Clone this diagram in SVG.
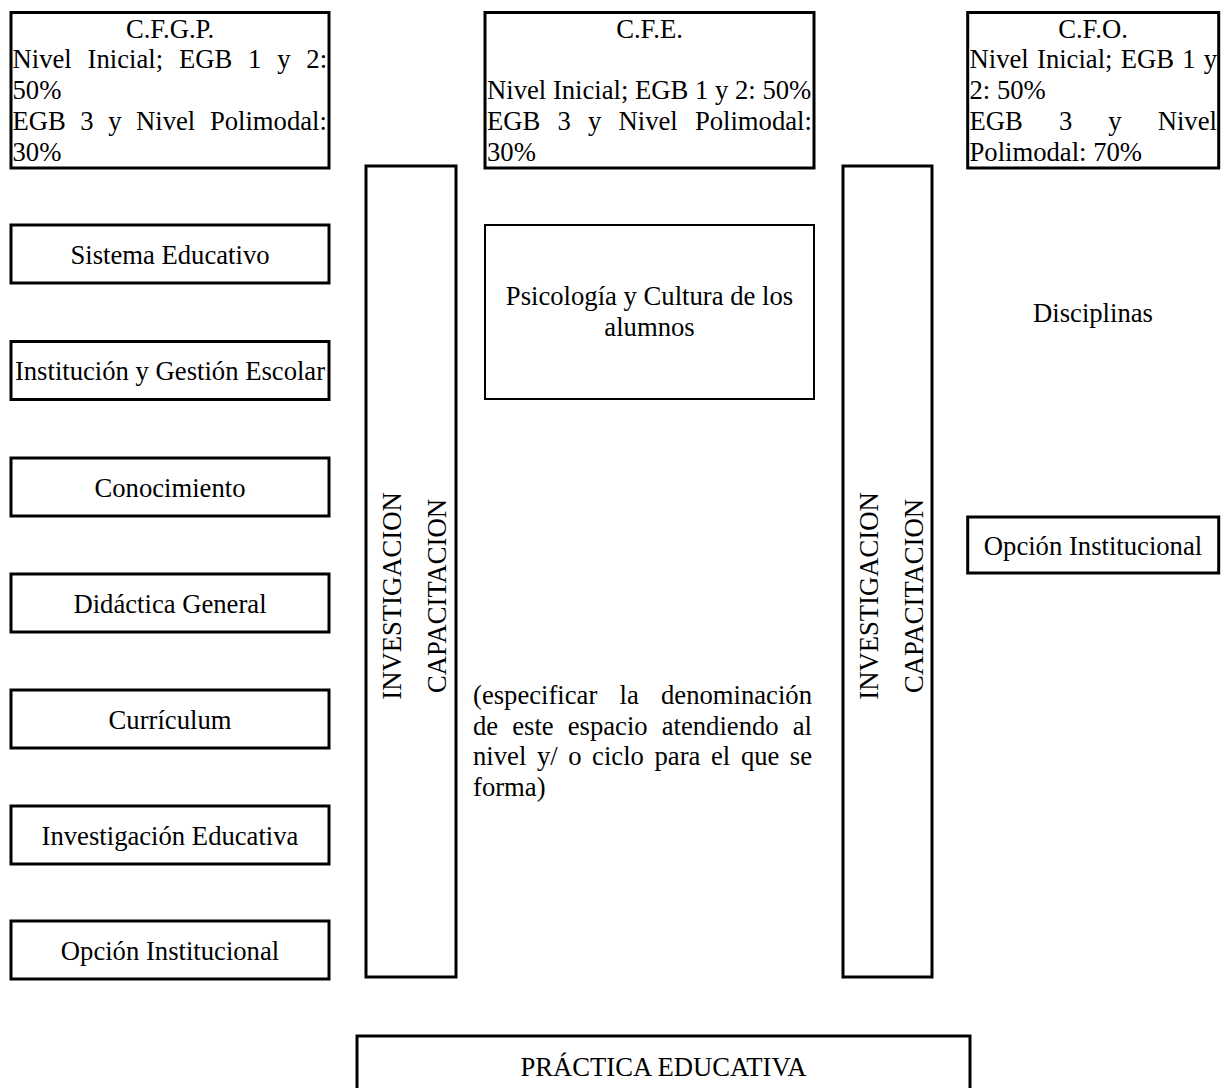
<svg xmlns="http://www.w3.org/2000/svg" width="1227" height="1088" viewBox="0 0 1227 1088">
<style>
  .box { fill: #ffffff; stroke: #000000; stroke-width: 3; }
  .thin { fill: #ffffff; stroke: #000000; stroke-width: 2; }
  text { font-family: "Liberation Serif", "Times New Roman", serif; font-size: 26.67px; fill: #000000; }
  .c { text-anchor: middle; }
  .e { text-anchor: end; }
</style>
<rect width="1227" height="1088" fill="#ffffff"/>

<g id="cfgp">
  <rect class="box" x="11" y="12.5" width="318" height="155.5"/>
  <text class="c" x="170" y="37.7">C.F.G.P.</text>
  <text y="68.4"><tspan x="12.5">Nivel</tspan><tspan x="87.6">Inicial;</tspan><tspan x="179">EGB</tspan><tspan x="248.1">1</tspan><tspan x="277.2">y</tspan><tspan x="306.3">2:</tspan></text>
  <text x="12.5" y="99.1">50%</text>
  <text y="129.8"><tspan x="12.5">EGB</tspan><tspan x="80.35">3</tspan><tspan x="108.2">y</tspan><tspan x="136.05">Nivel</tspan><tspan x="209.9">Polimodal:</tspan></text>
  <text x="12.5" y="160.5">30%</text>
</g>

<g id="cfe">
  <rect class="box" x="485" y="12.5" width="329" height="155.5"/>
  <text class="c" x="649.5" y="37.7">C.F.E.</text>
  <text x="487" y="99.1">Nivel Inicial; EGB 1 y 2: 50%</text>
  <text y="129.8"><tspan x="487">EGB</tspan><tspan x="557.5">3</tspan><tspan x="588">y</tspan><tspan x="618.5">Nivel</tspan><tspan x="694.9">Polimodal:</tspan></text>
  <text x="487" y="160.5">30%</text>
</g>

<g id="cfo">
  <rect class="box" x="967.7" y="12.5" width="251" height="155.5"/>
  <text class="c" x="1093" y="37.7">C.F.O.</text>
  <text y="68.4"><tspan x="969.5">Nivel</tspan><tspan x="1037">Inicial;</tspan><tspan x="1120.8">EGB</tspan><tspan x="1182.3">1</tspan><tspan x="1203.7">y</tspan></text>
  <text x="969.5" y="99.1">2: 50%</text>
  <text y="129.8"><tspan x="969.5">EGB</tspan><tspan x="1058.9">3</tspan><tspan x="1108.3">y</tspan><tspan x="1157.7">Nivel</tspan></text>
  <text x="969.5" y="160.5">Polimodal: 70%</text>
</g>

<g id="sistema-educativo">
  <rect class="box" x="11" y="225" width="318" height="58"/>
  <text class="c" x="170" y="263.5">Sistema Educativo</text>
</g>
<g id="institucion-gestion">
  <rect class="box" x="11" y="341.5" width="318" height="58"/>
  <text class="c" x="170" y="380">Institución y Gestión Escolar</text>
</g>
<g id="conocimiento">
  <rect class="box" x="11" y="458" width="318" height="58"/>
  <text class="c" x="170" y="496.5">Conocimiento</text>
</g>
<g id="didactica-general">
  <rect class="box" x="11" y="574" width="318" height="58"/>
  <text class="c" x="170" y="612.5">Didáctica General</text>
</g>
<g id="curriculum">
  <rect class="box" x="11" y="690" width="318" height="58"/>
  <text class="c" x="170" y="728.5">Currículum</text>
</g>
<g id="investigacion-educativa">
  <rect class="box" x="11" y="806" width="318" height="58"/>
  <text class="c" x="170" y="844.5">Investigación Educativa</text>
</g>
<g id="opcion-institucional-1">
  <rect class="box" x="11" y="921" width="318" height="58"/>
  <text class="c" x="170" y="959.5">Opción Institucional</text>
</g>

<g id="columna-1">
  <rect class="box" x="366" y="166" width="90" height="811"/>
  <text class="c" transform="translate(401,596) rotate(-90)">INVESTIGACION</text>
  <text class="c" transform="translate(446,596) rotate(-90)">CAPACITACION</text>
</g>
<g id="columna-2">
  <rect class="box" x="843" y="166" width="89" height="811"/>
  <text class="c" transform="translate(878,596) rotate(-90)">INVESTIGACION</text>
  <text class="c" transform="translate(923,596) rotate(-90)">CAPACITACION</text>
</g>

<g id="psicologia">
  <rect class="thin" x="485" y="225" width="329" height="174"/>
  <text class="c" x="649.5" y="305">Psicología y Cultura de los</text>
  <text class="c" x="649.5" y="335.7">alumnos</text>
</g>

<g id="especificar">
  <text y="704"><tspan x="473">(especificar</tspan><tspan x="619.5">la</tspan><tspan class="e" x="812">denominación</tspan></text>
  <text y="734.7"><tspan x="473">de</tspan><tspan x="512.2">este</tspan><tspan x="567.7">espacio</tspan><tspan x="661.7">atendiendo</tspan><tspan class="e" x="812">al</tspan></text>
  <text y="765.4"><tspan x="473">nivel</tspan><tspan x="536.9">y/</tspan><tspan x="568.2">o</tspan><tspan x="592.1">ciclo</tspan><tspan x="654.5">para</tspan><tspan x="711">el</tspan><tspan x="740.9">que</tspan><tspan class="e" x="812">se</tspan></text>
  <text x="473" y="796.1">forma)</text>
</g>

<g id="disciplinas">
  <text class="c" x="1093" y="321.7">Disciplinas</text>
</g>
<g id="opcion-institucional-2">
  <rect class="box" x="967.7" y="517" width="251" height="56"/>
  <text class="c" x="1093" y="555">Opción Institucional</text>
</g>

<g id="practica-educativa">
  <rect class="box" x="357" y="1036" width="613" height="70"/>
  <text class="c" x="663.5" y="1076">PRÁCTICA EDUCATIVA</text>
</g>

<g id="connectors"></g>
</svg>
